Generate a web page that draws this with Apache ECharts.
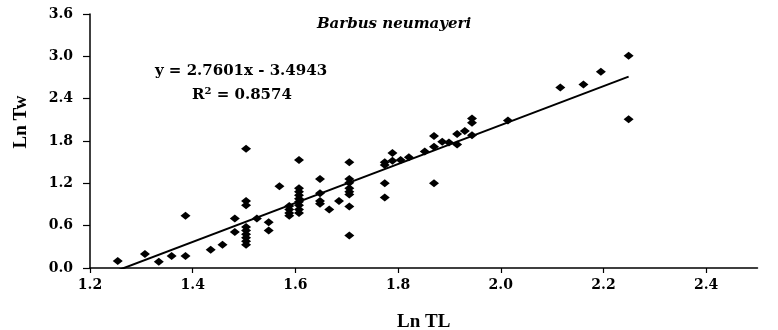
<!DOCTYPE html>
<html>
<head>
<meta charset="utf-8">
<script src="https://cdn.jsdelivr.net/npm/echarts@6/dist/echarts.min.js"></script>
<style>
  html, body { margin: 0; padding: 0; background: #fff; }
  #chart { width: 778px; height: 330px; }
</style>
</head>
<body>
<div id="chart"></div>
<script>
// Length–weight relationship, Barbus neumayeri (natural logs)
const lnTL = [
  1.254, 1.307, 1.334, 1.359, 1.386, 1.386, 1.435, 1.458, 1.482, 1.482,
  1.504, 1.504, 1.504, 1.504, 1.504, 1.504, 1.504, 1.504, 1.504,
  1.525, 1.548, 1.548, 1.569,
  1.588, 1.588, 1.588, 1.588,
  1.607, 1.607, 1.607, 1.607, 1.607, 1.607, 1.607, 1.607, 1.607,
  1.648, 1.648, 1.648, 1.648, 1.666, 1.685,
  1.705, 1.705, 1.705, 1.705, 1.705, 1.705, 1.705, 1.705,
  1.774, 1.774, 1.774, 1.774, 1.789, 1.789, 1.805, 1.821, 1.852,
  1.870, 1.870, 1.870, 1.886, 1.899, 1.915, 1.915, 1.930,
  1.944, 1.944, 1.944, 2.014, 2.116, 2.161, 2.195, 2.249, 2.249
];
const lnTW = [
  0.10, 0.20, 0.09, 0.17, 0.17, 0.74, 0.26, 0.33, 0.51, 0.70,
  1.69, 0.95, 0.89, 0.58, 0.53, 0.48, 0.43, 0.38, 0.33,
  0.70, 0.65, 0.53, 1.16,
  0.88, 0.83, 0.78, 0.74,
  1.53, 1.13, 1.08, 1.03, 0.98, 0.94, 0.89, 0.83, 0.78,
  1.26, 1.06, 0.95, 0.91, 0.83, 0.95,
  1.50, 1.26, 1.21, 1.13, 1.08, 1.04, 0.87, 0.46,
  1.50, 1.46, 1.20, 1.00, 1.63, 1.52, 1.53, 1.57, 1.65,
  1.87, 1.72, 1.20, 1.79, 1.78, 1.90, 1.75, 1.94,
  2.12, 2.06, 1.88, 2.09, 2.56, 2.60, 2.78, 3.01, 2.11
];

// Fitted regression: y = 2.7601x - 3.4943, R² = 0.8574
const slope = 2.7601;
const intercept = -3.4943;
const rSquared = 0.8574;

const xTicks = [1.2, 1.4, 1.6, 1.8, 2.0, 2.2, 2.4];
const yTicks = [0.0, 0.6, 1.2, 1.8, 2.4, 3.0, 3.6];

const points = lnTL.map((x, i) => [x, lnTW[i]]);
const xLo = Math.min(...lnTL);
const xHi = Math.max(...lnTL);
const trend = [[xLo, slope * xLo + intercept], [xHi, slope * xHi + intercept]];

const wide = '"DejaVu Serif", serif';
const times = '"Liberation Serif", "Times New Roman", serif';
const chart = echarts.init(document.getElementById('chart'), null, { renderer: 'canvas' });

chart.setOption({
  backgroundColor: '#ffffff',
  animation: false,
  grid: { left: 90, right: 20.5, top: 14, bottom: 62, containLabel: false, outerBoundsMode: 'none' },
  title: {
    text: 'Barbus neumayeri',
    left: 389, top: 12, textAlign: 'center',
    textStyle: { fontFamily: wide, fontSize: 15, fontWeight: 'bold', fontStyle: 'italic', color: '#000' }
  },
  xAxis: {
    type: 'value', min: 1.2, max: 2.5, interval: 0.2,
    name: 'Ln TL', nameLocation: 'middle', nameGap: 45,
    nameTextStyle: { fontFamily: times, fontSize: 19, fontWeight: 'bold', color: '#000' },
    axisLine: { show: true, lineStyle: { color: '#000', width: 1.5 } },
    axisTick: { show: true, length: 5, lineStyle: { color: '#000', width: 1.2 }, customValues: xTicks },
    axisLabel: {
      customValues: xTicks, margin: 10,
      fontFamily: wide, fontSize: 14, fontWeight: 'bold', color: '#000',
      formatter: v => v.toFixed(1)
    },
    splitLine: { show: false }
  },
  yAxis: {
    type: 'value', min: 0, max: 3.6, interval: 0.6,
    axisLine: { show: true, onZero: false, lineStyle: { color: '#000', width: 1.5 } },
    axisTick: { show: true, length: 7, lineStyle: { color: '#000', width: 1.2 }, customValues: yTicks },
    axisLabel: {
      customValues: yTicks, margin: 17,
      fontFamily: wide, fontSize: 14, fontWeight: 'bold', color: '#000',
      formatter: v => v.toFixed(1)
    },
    splitLine: { show: false }
  },
  graphic: [
    {
      type: 'text', x: 21, y: 122, rotation: Math.PI / 2,
      style: {
        text: 'Ln Tw', fill: '#000', align: 'center', verticalAlign: 'middle',
        font: 'bold 19px ' + times
      }
    },
    {
      type: 'text', x: 241, y: 71,
      style: {
        text: 'y = ' + slope.toFixed(4) + 'x - ' + Math.abs(intercept).toFixed(4),
        fill: '#000', align: 'center', verticalAlign: 'middle',
        font: 'bold 15px ' + wide
      }
    },
    {
      type: 'text', x: 242, y: 95,
      style: {
        text: '{b|R}{s|2}{b| = ' + rSquared.toFixed(4) + '}',
        align: 'center', verticalAlign: 'middle',
        rich: {
          b: { fontFamily: wide, fontSize: 15, fontWeight: 'bold', fill: '#000', color: '#000' },
          s: { fontFamily: wide, fontSize: 10, fontWeight: 'bold', fill: '#000', color: '#000', verticalAlign: 'top', padding: [0, 0, 8, 0] }
        }
      }
    }
  ],
  series: [
    {
      type: 'scatter', data: points,
      symbol: 'diamond', symbolSize: [10, 8],
      itemStyle: { color: '#000', opacity: 1 }
    },
    {
      type: 'line', data: trend, clip: true,
      showSymbol: false, symbol: 'none',
      lineStyle: { color: '#000', width: 2 },
      z: 1
    }
  ]
});
</script>
</body>
</html>
